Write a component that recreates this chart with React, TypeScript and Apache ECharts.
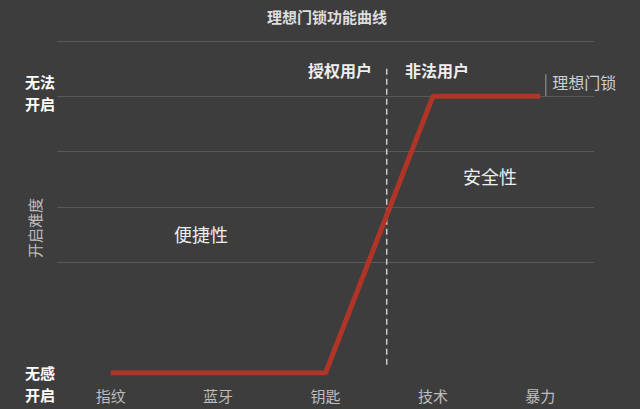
import React, { useEffect, useRef } from "react";
import * as echarts from "echarts";

const categories = ["指纹", "蓝牙", "钥匙", "技术", "暴力"];
const seriesName = "理想门锁";
const values = [0, 0, 0, 5, 5];
const yTickLabels: Record<number, string> = { 0: "无感\n开启", 5: "无法\n开启" };
const dividerX = 2.57;
const dividerSpan = [5.5, 0.11];
const zoneLabels = ["授权用户", "非法用户"];
const regionLabels = ["便捷性", "安全性"];
const title = "理想门锁功能曲线";
const yName = "开启难度";

const FONT = "'Noto Sans CJK SC', 'Noto Sans', sans-serif";

export default function App() {
  const ref = useRef<HTMLDivElement>(null);
  useEffect(() => {
    if (!ref.current) return;
    const chart = echarts.init(ref.current, undefined, { renderer: "svg" });
    chart.setOption({
      animation: false,
      backgroundColor: "#3d3d3d",
      textStyle: { fontFamily: FONT },
      title: {
        text: title,
        left: 262,
        top: 4,
        textStyle: { color: "#dddddd", fontSize: 15, fontWeight: "bold", fontFamily: FONT },
      },
      grid: { left: 57, right: 46, top: 41, bottom: 36, containLabel: false },
      xAxis: [
        {
          type: "category",
          data: categories,
          boundaryGap: true,
          axisLine: { show: false },
          axisTick: { show: false },
          axisLabel: { color: "#bdbdbd", fontSize: 15, margin: 15, fontFamily: FONT },
        },
        { type: "value", min: -0.5, max: 4.5, show: false },
      ],
      yAxis: {
        type: "value",
        min: 0,
        max: 6,
        interval: 1,
        axisLine: { show: false },
        axisTick: { show: false },
        splitLine: {
          lineStyle: {
            color: ["rgba(0,0,0,0)", "rgba(0,0,0,0)", "#585858", "#585858", "#585858", "#585858", "#585858"],
            width: 1,
          },
        },
        axisLabel: {
          margin: 2,
          formatter: (v: number) => {
            const t = yTickLabels[v];
            if (!t) return "";
            const [a, b] = t.split("\n");
            if (v === 0) return `{sp|}\n{lb|${a}}\n{lb|${b}}`;
            return `{lb|${a}}\n{lb|${b}}\n{sp2|}`;
          },
          rich: {
            lb: { color: "#ffffff", fontSize: 15, fontWeight: "bold", lineHeight: 22, fontFamily: FONT },
            sp: { height: 20, lineHeight: 20 },
            sp2: { height: 8, lineHeight: 8 },
          },
        },
      },
      series: [
        {
          name: seriesName,
          type: "line",
          data: values,
          symbol: "none",
          lineStyle: { color: "#b03527", width: 5 },
          endLabel: {
            show: true,
            offset: [-3, -11],
            formatter: () => `{bar|}{t|${seriesName}}`,
            rich: {
              bar: { width: 1, height: 22, backgroundColor: "#9a9a9a", verticalAlign: "bottom" },
              t: { color: "#cfcfcf", fontSize: 16, padding: [0, 0, 6, 6], fontFamily: FONT },
            },
          },
          z: 3,
        },
        {
          type: "line",
          xAxisIndex: 1,
          data: dividerSpan.map((y) => [dividerX, y]),
          symbol: "none",
          lineStyle: { color: "#cccccc", width: 1.5, type: [6, 4] },
          z: 2,
        },
      ],
      graphic: [
        {
          type: "text",
          x: 372,
          y: 70,
          style: { text: zoneLabels[0], fill: "#eeeeee", font: `bold 16px ${FONT}`, textAlign: "right", textVerticalAlign: "middle" },
        },
        {
          type: "text",
          x: 405,
          y: 70,
          style: { text: zoneLabels[1], fill: "#eeeeee", font: `bold 16px ${FONT}`, textAlign: "left", textVerticalAlign: "middle" },
        },
        {
          type: "text",
          x: 201,
          y: 234,
          style: { text: regionLabels[0], fill: "#eeeeee", font: `18px ${FONT}`, textAlign: "center", textVerticalAlign: "middle" },
        },
        {
          type: "text",
          x: 490,
          y: 176,
          style: { text: regionLabels[1], fill: "#eeeeee", font: `18px ${FONT}`, textAlign: "center", textVerticalAlign: "middle" },
        },
        {
          type: "text",
          x: 34,
          y: 228,
          rotation: Math.PI / 2,
          style: { text: yName, fill: "#bdbdbd", font: `15px ${FONT}`, textAlign: "center", textVerticalAlign: "middle" },
        },
      ],
    });
    return () => chart.dispose();
  }, []);
  return (
    <div
      ref={ref}
      style={{ position: "fixed", left: 0, top: 0, width: 640, height: 409 }}
    />
  );
}
